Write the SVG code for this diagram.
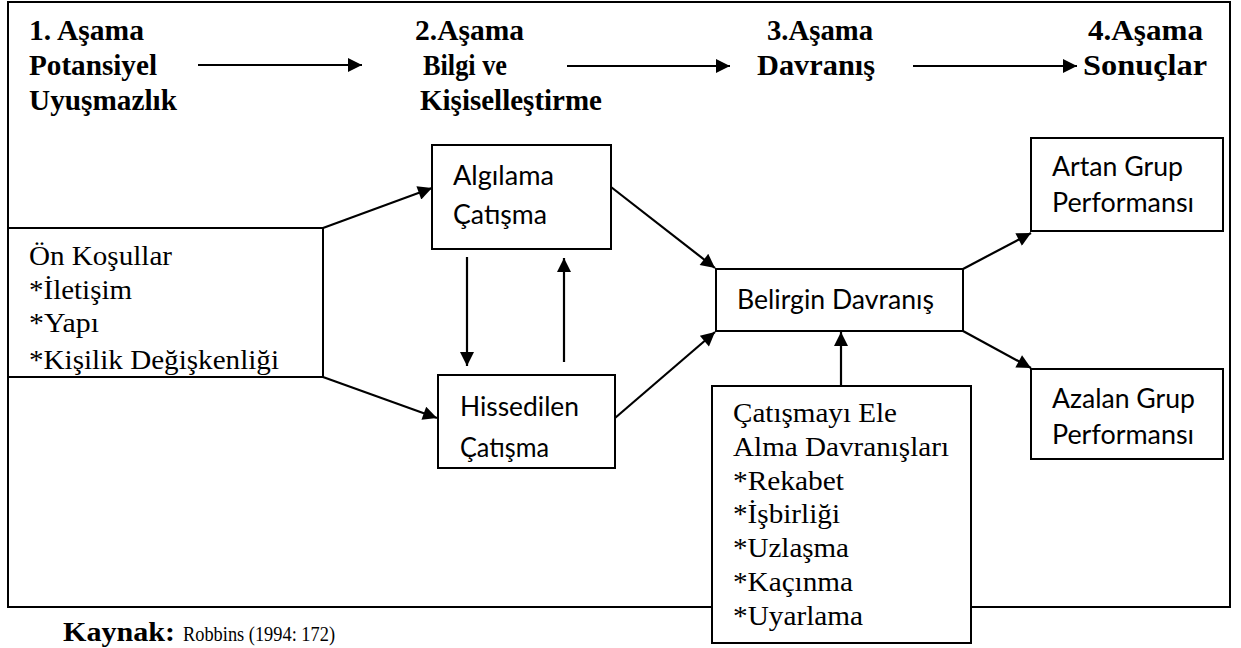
<svg xmlns="http://www.w3.org/2000/svg" width="1241" height="648" viewBox="0 0 1241 648">
<style>
.box{fill:#fff;stroke:#000;stroke-width:2}
.frame{fill:none;stroke:#000;stroke-width:2}
.hd{font-family:"Liberation Serif","Times New Roman",serif;font-weight:bold;font-size:29px;fill:#000}
.sr{font-family:"Liberation Serif","Times New Roman",serif;font-size:28px;fill:#000}
.ss{font-family:Lato,"Noto Sans",sans-serif;font-size:26px;fill:#000}
.cn{stroke:#000;stroke-width:2.2;fill:none;marker-end:url(#ah)}
</style>
<defs>
<marker id="ah" viewBox="0 0 10 10" refX="10" refY="5" markerWidth="17" markerHeight="14" markerUnits="userSpaceOnUse" orient="auto">
<path d="M0,0 L10,5 L0,10 z" fill="#000"/>
</marker>
<clipPath id="onclip"><rect x="8" y="228" width="315" height="149"/></clipPath>
</defs>
<rect width="1241" height="648" fill="#fff"/>
<rect class="frame" x="8" y="2" width="1222" height="605"/>
<g id="headers">
<text class="hd" x="29" y="40" textLength="115" lengthAdjust="spacingAndGlyphs">1. Aşama</text>
<text class="hd" x="29" y="75" textLength="128" lengthAdjust="spacingAndGlyphs">Potansiyel</text>
<text class="hd" x="29" y="110" textLength="148" lengthAdjust="spacingAndGlyphs">Uyuşmazlık</text>
<text class="hd" x="415" y="40" textLength="109" lengthAdjust="spacingAndGlyphs">2.Aşama</text>
<text class="hd" x="423" y="75" textLength="84" lengthAdjust="spacingAndGlyphs">Bilgi ve</text>
<text class="hd" x="420" y="110" textLength="182" lengthAdjust="spacingAndGlyphs">Kişiselleştirme</text>
<text class="hd" x="767" y="40" textLength="106" lengthAdjust="spacingAndGlyphs">3.Aşama</text>
<text class="hd" x="757" y="75" textLength="118" lengthAdjust="spacingAndGlyphs">Davranış</text>
<text class="hd" x="1088" y="40" textLength="115" lengthAdjust="spacingAndGlyphs">4.Aşama</text>
<text class="hd" x="1083" y="75" textLength="124" lengthAdjust="spacingAndGlyphs">Sonuçlar</text>
</g>
<g id="on-kosullar">
<rect class="box" x="8" y="228" width="315" height="149"/>
<g clip-path="url(#onclip)">
<text class="sr" x="29" y="265" textLength="143" lengthAdjust="spacingAndGlyphs">Ön Koşullar</text>
<text class="sr" x="29" y="299" textLength="103" lengthAdjust="spacingAndGlyphs">*İletişim</text>
<text class="sr" x="29" y="332" textLength="70" lengthAdjust="spacingAndGlyphs">*Yapı</text>
<text class="sr" x="29" y="369" textLength="250" lengthAdjust="spacingAndGlyphs">*Kişilik Değişkenliği</text>
</g>
</g>
<g id="algilama">
<rect class="box" x="432" y="145" width="179" height="104"/>
<text class="ss" x="453" y="185" textLength="101" lengthAdjust="spacingAndGlyphs">Algılama</text>
<text class="ss" x="453" y="224" textLength="94" lengthAdjust="spacingAndGlyphs">Çatışma</text>
</g>
<g id="hissedilen">
<rect class="box" x="438" y="375" width="177" height="93"/>
<text class="ss" x="460" y="416" textLength="119" lengthAdjust="spacingAndGlyphs">Hissedilen</text>
<text class="ss" x="460" y="457" textLength="89" lengthAdjust="spacingAndGlyphs">Çatışma</text>
</g>
<g id="belirgin">
<rect class="box" x="716" y="269" width="247" height="62"/>
<text class="ss" x="737" y="309" textLength="197" lengthAdjust="spacingAndGlyphs">Belirgin Davranış</text>
</g>
<g id="artan">
<rect class="box" x="1031" y="138" width="192" height="93"/>
<text class="ss" x="1052" y="176" textLength="131" lengthAdjust="spacingAndGlyphs">Artan Grup</text>
<text class="ss" x="1052" y="212" textLength="142" lengthAdjust="spacingAndGlyphs">Performansı</text>
</g>
<g id="azalan">
<rect class="box" x="1031" y="369" width="192" height="90"/>
<text class="ss" x="1052" y="408" textLength="143" lengthAdjust="spacingAndGlyphs">Azalan Grup</text>
<text class="ss" x="1052" y="444" textLength="142" lengthAdjust="spacingAndGlyphs">Performansı</text>
</g>
<g id="catismayi">
<rect class="box" x="712" y="386" width="259" height="257"/>
<text class="sr" x="733" y="422" textLength="164" lengthAdjust="spacingAndGlyphs">Çatışmayı Ele</text>
<text class="sr" x="733" y="456" textLength="216" lengthAdjust="spacingAndGlyphs">Alma Davranışları</text>
<text class="sr" x="733" y="490" textLength="111" lengthAdjust="spacingAndGlyphs">*Rekabet</text>
<text class="sr" x="733" y="523" textLength="107" lengthAdjust="spacingAndGlyphs">*İşbirliği</text>
<text class="sr" x="733" y="557" textLength="116" lengthAdjust="spacingAndGlyphs">*Uzlaşma</text>
<text class="sr" x="733" y="591" textLength="120" lengthAdjust="spacingAndGlyphs">*Kaçınma</text>
<text class="sr" x="733" y="625" textLength="130" lengthAdjust="spacingAndGlyphs">*Uyarlama</text>
</g>
<g id="connectors">
<line class="cn" x1="198" y1="65" x2="362" y2="65"/>
<line class="cn" x1="567" y1="66" x2="730" y2="66"/>
<line class="cn" x1="913" y1="66" x2="1077" y2="66"/>
<line class="cn" x1="323" y1="228" x2="432" y2="188"/>
<line class="cn" x1="323" y1="377" x2="437" y2="418"/>
<line class="cn" x1="611" y1="187" x2="715" y2="268"/>
<line class="cn" x1="615" y1="418" x2="715" y2="332"/>
<line class="cn" x1="467" y1="257" x2="467" y2="366"/>
<line class="cn" x1="564" y1="362" x2="564" y2="258"/>
<line class="cn" x1="841" y1="386" x2="841" y2="332"/>
<line class="cn" x1="963" y1="269" x2="1031" y2="233"/>
<line class="cn" x1="963" y1="331" x2="1031" y2="368"/>
</g>
<g id="source">
<text class="hd" x="63" y="641" textLength="112" lengthAdjust="spacingAndGlyphs" style="font-size:27px">Kaynak:</text>
<text class="sr" x="183" y="641" style="font-size:20px" textLength="152" lengthAdjust="spacingAndGlyphs">Robbins (1994: 172)</text>
</g>
</svg>
